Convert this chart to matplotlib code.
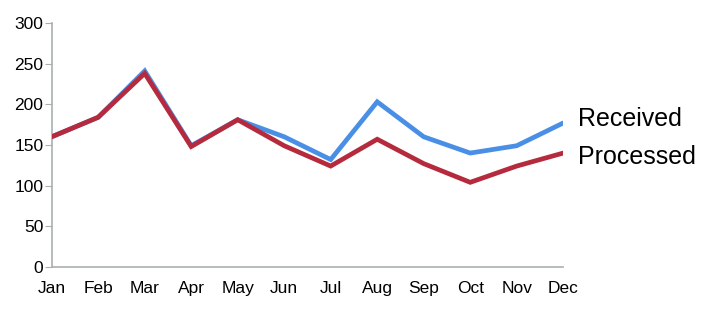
import matplotlib.pyplot as plt

months = ['Jan', 'Feb', 'Mar', 'Apr', 'May', 'Jun', 'Jul', 'Aug', 'Sep', 'Oct', 'Nov', 'Dec']
received = [160, 184, 241, 149, 181, 160, 132, 203, 160, 140, 149, 177]
processed = [160, 184, 238, 148, 181, 149, 124, 157, 127, 104, 124, 140]

plt.rcParams['font.family'] = ['Liberation Sans', 'DejaVu Sans']

fig = plt.figure(figsize=(7.23, 3.10), dpi=100)
ax = fig.add_axes([0.0715, 0.139, 0.7075, 0.787])

x = range(len(months))
ax.plot(x, received, color='#4a8fe6', lw=3.4, solid_joinstyle='miter',
        solid_capstyle='round', zorder=2)
ax.plot(x, processed, color='#b52a3c', lw=3.4, solid_joinstyle='miter',
        solid_capstyle='round', zorder=3)

ax.set_xlim(0, 11)
ax.set_ylim(0, 300)
ax.set_yticks(range(0, 301, 50))
ax.set_xticks(list(x))
ax.set_xticklabels(months)

for s in ['top', 'right']:
    ax.spines[s].set_visible(False)
for s in ['left', 'bottom']:
    ax.spines[s].set_color('#a8b0b0')
    ax.spines[s].set_linewidth(1.2)

ax.tick_params(axis='y', length=5, color='#a8b0b0', labelsize=12.5, pad=1)
ax.tick_params(axis='x', length=0, labelsize=12.5, pad=10)

ax.text(11.32, 182, 'Received', fontsize=18, va='center', ha='left')
ax.text(11.32, 135, 'Processed', fontsize=18, va='center', ha='left')

fig.savefig('out.png', dpi=100)
